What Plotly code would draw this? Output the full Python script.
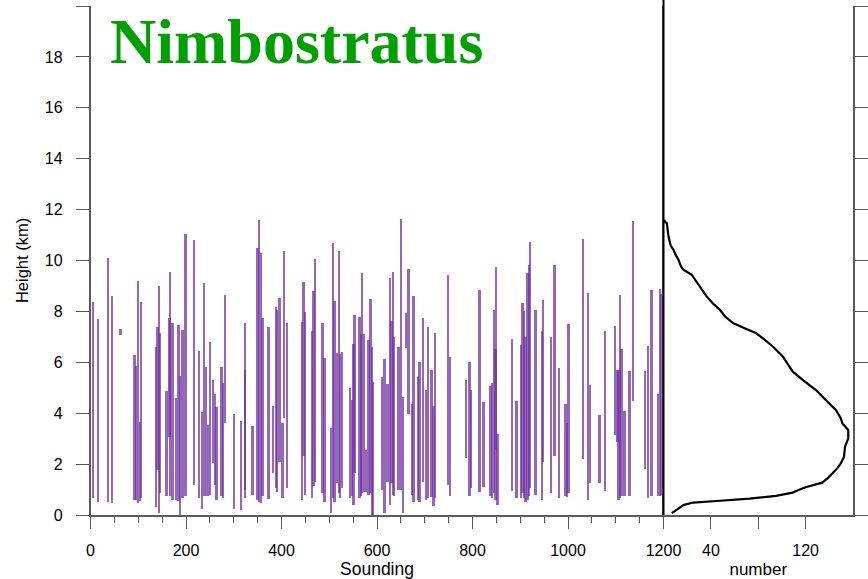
import plotly.graph_objects as go

# --- segment data: sounding index, cloud base (km), cloud top (km) ---
sounding = [4, 15, 36, 44, 62, 91, 94, 99, 102, 105, 136, 139, 142, 144, 158, 164, 166, 171, 178, 183, 186, 192, 198,
            216, 226, 233, 236, 241, 245, 249, 256, 260, 263, 273, 277, 280, 300, 314, 322, 323, 338, 349, 352, 356, 359,
            372, 381, 387, 390, 395, 401, 404,
            411, 442, 445, 448, 463, 466, 469, 485, 489, 503, 507, 510, 515, 519, 522, 526, 542, 546, 550, 552, 562, 565,
            568, 572, 576, 581, 585, 588, 591, 609,
            615, 621, 626, 629, 632, 635, 644, 649, 653, 660, 665, 672, 675, 685, 688, 695, 701, 706, 713, 717, 721, 748,
            752, 785, 793, 796, 814,
            822, 837, 840, 844, 847, 848, 851, 882, 891, 900, 904, 907, 910, 914, 917, 920, 931, 945, 947, 963, 971, 980,
            994, 997, 1000,
            1030, 1041, 1045, 1065, 1077, 1097, 1103, 1105, 1108, 1111, 1117, 1128, 1135, 1160, 1167, 1174, 1187, 1192,
            1195, 1199]
seg_bottom = [0.66, 0.53, 0.53, 0.47, 7.08, 0.57, 0.57, 0.47, 0.56, 0.66, 0.3, 1.77, 0.08, 0.86, 0.73, 3.07, 0.73, 0.6, 0.6, 0.56, 0.0, 0.66, 0.73,
              1.18, 0.66, 0.23, 0.73, 0.73, 0.73, 0.8, 2.06, 1.18, 0.6, 0.73, 0.66, 3.6, 0.23, 0.2, 0.99, 0.66, 0.8, 0.6, 0.53, 0.47, 0.73,
              0.62, 1.64, 1.05, 0.92, 2.1, 0.66, 3.8,
              1.05, 0.6, 2.3, 0.8, 0.66, 1.15, 1.31, 0.86, 0.53, 0.08, 0.66, 0.53, 1.25, 0.86, 0.66, 1.05, 0.66, 0.73, 0.4, 1.64, 0.66, 0.73,
              0.86, 0.92, 0.92, 0.8, 0.86, 0.0, 0.0, 0.99,
              0.08, 1.31, 0.4, 1.25, 0.8, 0.73, 0.99, 0.99, 0.08, 6.56, 3.98, 0.8, 0.5, 0.6, 0.5, 1.31, 0.6, 0.66, 0.7, 0.34, 0.66, 1.18,
              0.73, 2.23, 0.73, 1.05, 0.92,
              1.12, 0.73, 0.66, 0.86, 0.6, 2.55, 0.4, 0.96, 0.66, 0.66, 0.86, 0.66, 0.53, 0.6, 0.73, 1.05, 0.8, 0.6, 2.1, 0.86, 2.3, 0.66,
              0.73, 0.7, 0.86,
              2.19, 0.6, 1.25, 1.25, 0.96, 3.14, 2.88, 0.6, 0.66, 0.73, 0.73, 0.73, 4.48, 1.8, 0.66, 0.73, 0.73, 0.73,
              0.8, 0.86]
seg_top = [8.35, 7.7, 10.1, 8.6, 7.3, 6.3, 5.85, 9.2, 3.66, 8.35, 6.6, 7.37, 9.0, 7.17, 4.87, 7.76, 9.55, 7.56, 4.6, 7.47, 5.48, 7.27, 11.04,
           10.8, 6.46, 4.05, 9.13, 5.8, 3.53, 6.78, 5.29, 4.77, 4.24, 5.8, 5.2, 8.65, 3.96, 3.7, 5.68, 7.54, 3.5, 10.5, 11.6, 10.3, 7.76,
           7.4, 4.27, 8.18, 8.05, 8.54, 3.6, 10.36,
           7.54, 7.6, 9.17, 7.96, 7.24, 8.8, 10.04, 7.56, 6.17, 3.4, 10.7, 8.41, 6.37, 10.36, 6.33, 6.4, 4.99, 4.5, 6.7, 7.86, 7.79, 7.1,
           9.52, 7.1, 2.55, 6.88, 8.48, 6.59, 5.22, 5.42,
           6.13, 5.16, 9.3, 7.63, 9.56, 6.98, 6.59, 11.64, 4.64, 7.92, 9.65, 4.38, 8.6, 5.44, 6.03, 7.76, 4.9, 7.37, 5.7, 4.27, 7.14, 9.45,
           6.2, 5.29, 6.0, 4.9, 8.83,
           4.44, 5.05, 5.18, 8.05, 6.52, 9.74, 3.18, 6.9, 4.48, 6.68, 8.32, 8.02, 6.98, 9.52, 9.84, 10.73, 8.05, 7.24, 8.44, 7.0, 9.84, 5.77,
           4.38, 3.6, 7.5,
           10.86, 8.74, 5.09, 3.92, 7.24, 7.43, 5.68, 5.68, 8.65, 6.52, 4.09, 5.65, 11.54, 5.65, 6.65, 8.83, 4.74, 8.87,
           8.67, 9.6]

# --- profile data: number of cloudy soundings vs height ---
profile_number = [0.5, 1.5, 2.8, 4.2, 6.0, 8.4, 10.5, 12.6, 15.0, 16.8, 23.8, 30.0, 36.4, 42.0, 47.6, 52.0, 58.7, 68.0, 78.3,
                  85.0, 92.3, 100.7, 104.0, 109, 117.5, 123.0, 128.7, 137, 141.0, 145.5, 149.7, 151, 153.0, 156, 156,
                  153.3, 152.4, 149.7, 147.0, 144, 138.5, 134, 127.0, 120, 114.0, 109, 95, 72.7, 44.8, 25, 16.8, 11.2, 7]
profile_height = [11.6, 11.5, 11.47, 10.95, 10.6, 10.42, 10.2, 10.03, 9.75, 9.64, 9.44, 9.0, 8.59, 8.3, 8.06, 7.8, 7.54, 7.35, 7.14,
                  6.9, 6.62, 6.23, 6.0, 5.64, 5.31, 5.1, 4.91, 4.52, 4.35, 4.13, 3.8, 3.6, 3.5, 3.34, 3.01,
                  2.69, 2.29, 2.03, 1.85, 1.70, 1.44, 1.27, 1.18, 1.09, 0.98, 0.88, 0.75, 0.64, 0.55, 0.49, 0.39, 0.22, 0.07]

x_ticks = [0, 200, 400, 600, 800, 1000, 1200]
y_ticks = list(range(0, 21, 2))

W, H = 868, 579
x_left, x_mid, x_right = 90.5 / W, 663.5 / W, 853 / W
y_bot, y_top = 1 - 515 / H, 1 - 6 / H

FONT = "Liberation Sans, Arial, sans-serif"
AX = "#5a5a5a"

heights = [t - b for t, b in zip(seg_top, seg_bottom)]

fig = go.Figure()
fig.add_trace(go.Bar(x=sounding, y=heights, base=seg_bottom, width=5,
                     marker=dict(color="rgba(112,48,160,0.74)", line=dict(width=0)),
                     xaxis="x", yaxis="y", showlegend=False))
fig.add_trace(go.Scatter(x=profile_number, y=profile_height, mode="lines",
                         line=dict(color="black", width=2.2),
                         xaxis="x2", yaxis="y2", showlegend=False))

fig.update_layout(
    width=W, height=H,
    margin=dict(l=0, r=0, t=0, b=0),
    paper_bgcolor="white", plot_bgcolor="white",
    bargap=0, barmode="overlay",
    font=dict(family=FONT, size=16, color="black"),
    xaxis=dict(domain=[x_left, x_mid], range=[0, 1200], anchor="y", automargin=False,
               tickvals=x_ticks, ticks="outside", ticklen=12, tickwidth=1.3, tickcolor=AX,
               minor=dict(dtick=50, tick0=0, ticks="outside", ticklen=6, tickwidth=1.2, tickcolor=AX),
               showline=True, linecolor=AX, linewidth=1.5, showgrid=False, zeroline=False,
               ticklabelstandoff=8,
               title=dict(text="Sounding", font=dict(size=17.5), standoff=2)),
    yaxis=dict(domain=[y_bot, y_top], range=[0, 20], anchor="x", automargin=False,
               tickvals=y_ticks, ticks="outside", ticklen=13, tickwidth=1.3, tickcolor=AX,
               showline=True, linecolor=AX, linewidth=1.5, showgrid=False, zeroline=False,
               ticklabelstandoff=10,
               title=dict(text="Height (km)", font=dict(size=16.5), standoff=12)),
    xaxis2=dict(domain=[x_mid, x_right], range=[0, 160], anchor="y2", automargin=False,
                tickvals=[40, 80, 120], ticktext=["40", "", "120"],
                ticks="outside", ticklen=12, tickwidth=1.3, tickcolor=AX,
                showline=True, linecolor=AX, linewidth=1.5, showgrid=False, zeroline=False,
                ticklabelstandoff=8,
                title=dict(text="number", font=dict(size=17), standoff=6)),
    yaxis2=dict(domain=[y_bot, y_top], range=[0, 20], anchor="x2", side="right", automargin=False,
                tickvals=y_ticks, ticks="outside", ticklen=13, tickwidth=1.3, tickcolor=AX,
                showticklabels=False, showline=True, mirror=True, linecolor=AX, linewidth=1.5,
                showgrid=False, zeroline=False),
    shapes=[dict(type="line", xref="paper", yref="paper", x0=x_mid, x1=x_mid, y0=y_bot, y1=1,
                 line=dict(color="black", width=2))],
    annotations=[dict(text="<b>Nimbostratus</b>", xref="paper", yref="paper",
                      x=108 / W, y=1 - 41.5 / H, xanchor="left", yanchor="middle", showarrow=False,
                      font=dict(family="Liberation Serif, Times New Roman, serif", size=64, color="#00a000"))],
)

fig.write_html("out.html")
